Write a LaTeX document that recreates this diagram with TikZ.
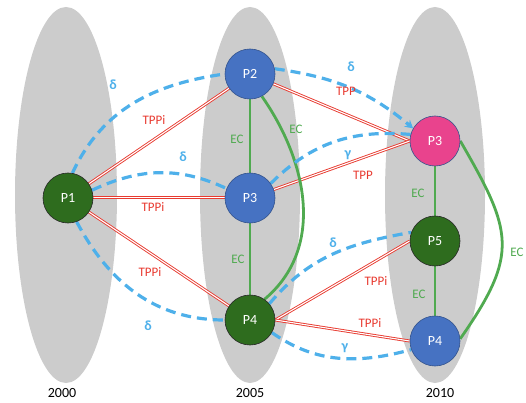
\documentclass[tikz,border=0pt]{standalone}
\usepackage{fontspec}
\setmainfont{Carlito}
\usetikzlibrary{backgrounds,arrows.meta}
\definecolor{lgray}{RGB}{204,204,204}
\definecolor{pgreen}{RGB}{46,108,30}
\definecolor{pblue}{RGB}{70,114,194}
\definecolor{pbline}{RGB}{50,82,140}
\definecolor{ppink}{RGB}{233,67,141}
\definecolor{tred}{RGB}{232,58,48}
\definecolor{ecgreen}{RGB}{80,170,80}
\definecolor{dblue}{RGB}{78,176,234}

\begin{document}
\begin{tikzpicture}[x=1pt,y=1pt,
    every node/.style={font=\fontsize{13}{15}\selectfont},
    pnode/.style={circle,minimum size=50pt,inner sep=0pt,text=white,line width=0.6pt,
      font=\fontsize{14}{16}\selectfont},
    greenp/.style={pnode,fill=pgreen,draw=black!85},
    bluep/.style={pnode,fill=pblue,draw=pbline},
    pinkp/.style={pnode,fill=ppink,draw=pbline},
    tpp/.style={draw=tred,double=white,double distance=1.1pt,line width=0.9pt},
    ec/.style={draw=ecgreen,line width=2.8pt},
    dist/.style={draw=dblue,line width=3.2pt,dash pattern=on 10pt off 6pt},
    tlab/.style={text=tred},
    elab/.style={text=ecgreen},
    dlab/.style={text=dblue,font=\fontsize{14}{16}\selectfont\bfseries},
    year/.style={font=\fontsize{14}{16}\selectfont}]
  \useasboundingbox (0,0) rectangle (526,-403);

  % time slices
  \begin{scope}[on background layer]
    \fill[lgray] (66,-195) ellipse [x radius=51, y radius=188];
    \fill[lgray] (250,-195) ellipse [x radius=50, y radius=188];
    \fill[lgray] (435,-195) ellipse [x radius=50, y radius=188];
  \end{scope}
  \node[year] (y2000) at (62,-393) {2000};
  \node[year] (y2005) at (250,-393) {2005};
  \node[year] (y2010) at (440,-393) {2010};

  % regions
  \node[greenp] (p1) at (68,-198) {P1};
  \node[bluep] (p2m) at (250,-74) {P2};
  \node[bluep] (p3m) at (250,-198) {P3};
  \node[greenp] (p4m) at (250,-320) {P4};
  \node[pinkp] (p3r) at (435,-141) {P3};
  \node[greenp] (p5r) at (435,-241) {P5};
  \node[bluep] (p4r) at (435,-341) {P4};

  \begin{scope}[on background layer]
    % TPP / TPPi
    \draw[tpp] (p1) -- (p2m);
    \draw[tpp] (p1.2) -- (p3m.178);
    \draw[tpp] (p1) -- (p4m);
    \draw[tpp] (p2m) -- (p3r.west);
    \draw[tpp] (p3m) -- (p3r.west);
    \draw[tpp] (p4m.east) -- (p5r.west);
    \draw[tpp] (p4m.east) -- (p4r.west);
    % EC
    \draw[ec] (p2m) -- (p3m);
    \draw[ec] (p3m) -- (p4m);
    \draw[ec] (p2m.-62) to[out=-55,in=40] (p4m.55);
    \draw[ec] (p3r) -- (p5r);
    \draw[ec] (p5r) -- (p4r);
    \draw[ec] (p3r.0) to[out=-60,in=55,looseness=1.35] (p4r.5);
    % delta / gamma
    \draw[dist] (p1.80) to[out=65,in=188] (p2m.west);
    \draw[dist] (p1.18) to[out=25,in=155] (p3m.158);
    \draw[dist] (p1.-70) to[out=-62,in=180] (p4m.west);
    \draw[dist,-{Stealth[length=8pt,width=9pt]}] (p2m.12) to[out=-8,in=140] (p3r.150);
    \draw[dist] (p3m.35) to[out=45,in=175] (p3r.165);
    \draw[dist] (p4m.40) to[out=50,in=190] (p5r.160);
    \draw[dist] (p4m.-30) to[out=-35,in=195] (p4r.200);
  \end{scope}

  % labels
  \node[tlab] (t12) at (154,-120) {TPPi};
  \node[tlab] (t13) at (153,-207) {TPPi};
  \node[tlab] (t14) at (150,-272) {TPPi};
  \node[tlab] (t23) at (346,-91) {TPP};
  \node[tlab] (t33) at (363,-175) {TPP};
  \node[tlab] (t45) at (376,-281) {TPPi};
  \node[tlab] (t44) at (370,-323) {TPPi};
  \node[elab] (e23) at (237,-139) {EC};
  \node[elab] (e34) at (238,-259) {EC};
  \node[elab] (e24) at (296,-129) {EC};
  \node[elab] (e35) at (418,-193) {EC};
  \node[elab] (e54) at (419,-294) {EC};
  \node[elab] (e3r4) at (517,-252) {EC};
  \node[dlab] (d12) at (113,-85) {δ};
  \node[dlab] (d13) at (183,-157) {δ};
  \node[dlab] (d14) at (148,-326) {δ};
  \node[dlab] (d23) at (351,-67) {δ};
  \node[dlab] (g33) at (348,-155) {γ};
  \node[dlab] (d45) at (333,-243) {δ};
  \node[dlab] (g44) at (345,-348) {γ};
\end{tikzpicture}
\end{document}
